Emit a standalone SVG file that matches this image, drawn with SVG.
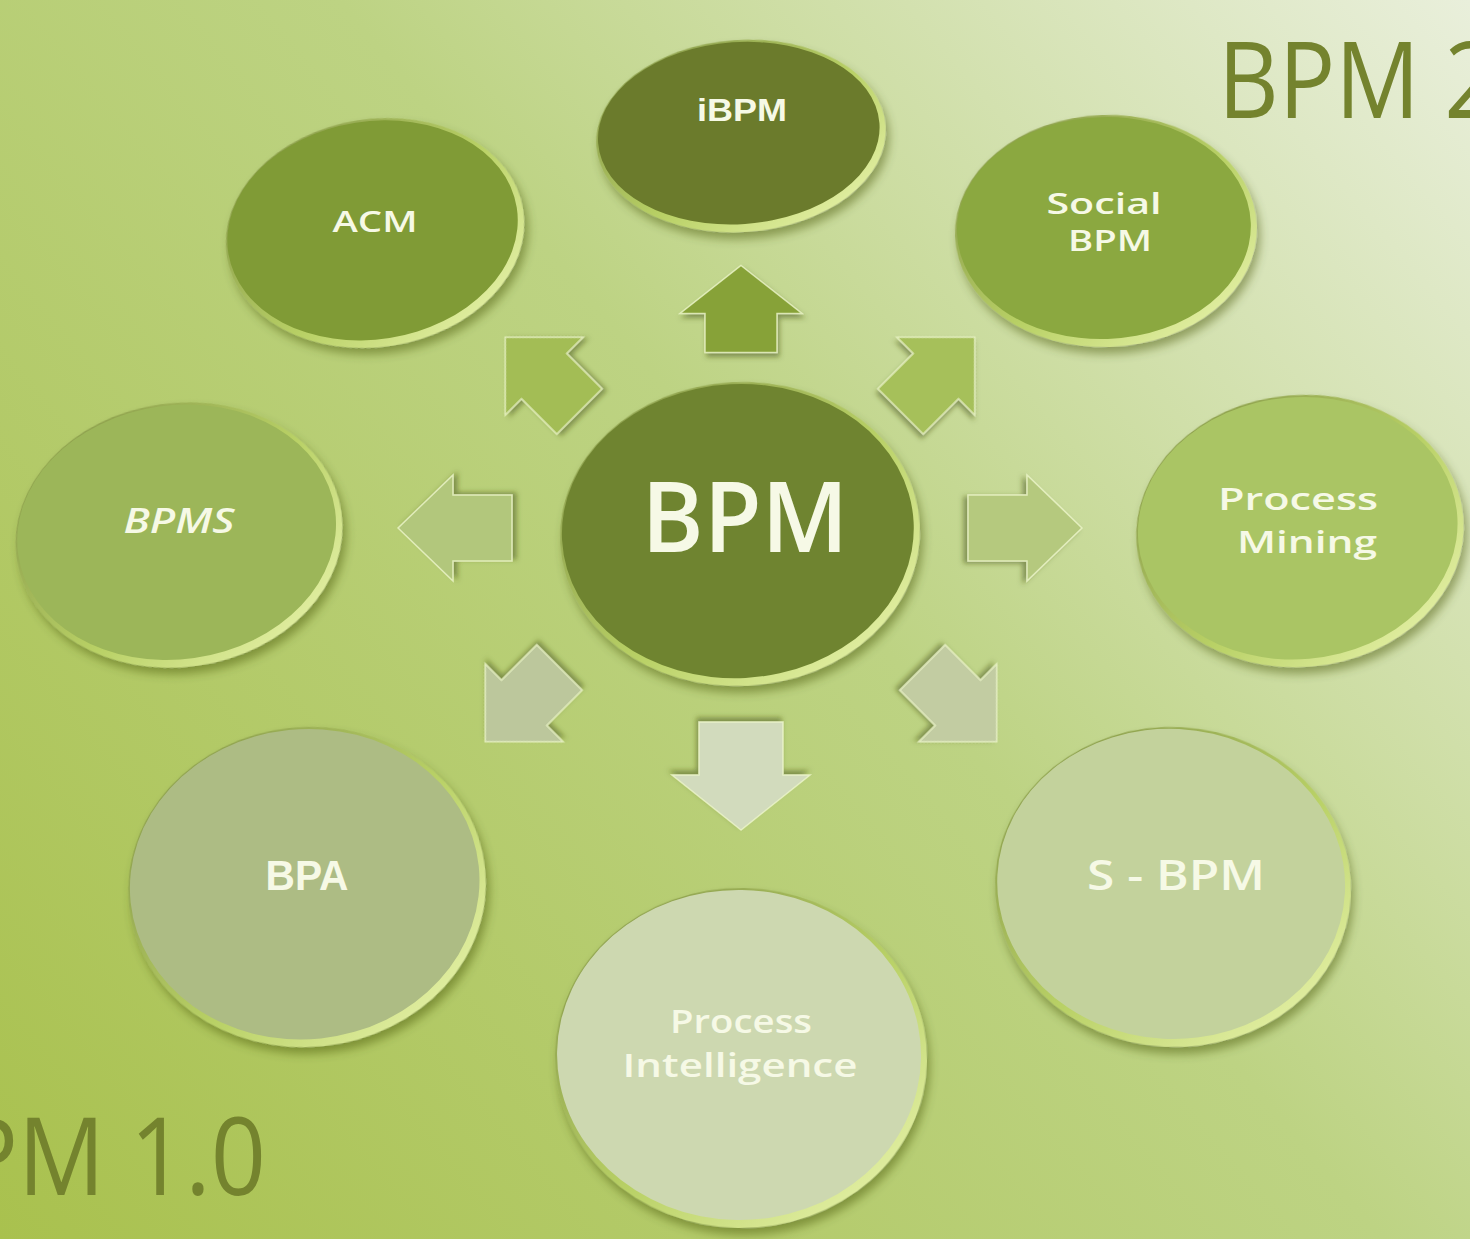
<svg xmlns="http://www.w3.org/2000/svg" width="1470" height="1239" viewBox="0 0 1470 1239">
<defs>
<linearGradient id="bg" gradientUnits="userSpaceOnUse" x1="0" y1="1239" x2="1470" y2="0">
<stop offset="0" stop-color="#a9c14e"/>
<stop offset="0.55" stop-color="#bdd383"/>
<stop offset="1" stop-color="#e9efdb"/>
</linearGradient>
<linearGradient id="rim" x1="0" y1="0" x2="1" y2="1">
<stop offset="0" stop-color="#7e8f45"/>
<stop offset="0.55" stop-color="#b9d166"/>
<stop offset="1" stop-color="#f0f9b8"/>
</linearGradient>
<filter id="sh" x="-20%" y="-20%" width="140%" height="150%">
<feDropShadow dx="3" dy="7" stdDeviation="5" flood-color="#3f4f10" flood-opacity="0.45"/>
</filter>
<filter id="ash" x="-30%" y="-30%" width="160%" height="160%">
<feDropShadow dx="2" dy="4" stdDeviation="2.5" flood-color="#3f4f10" flood-opacity="0.5"/>
</filter>
<style>
.rim{fill:url(#rim);filter:url(#sh)}
.t{fill:#f6f9e6;font-family:"Open Sans","DejaVu Sans",sans-serif;text-anchor:middle;font-weight:600}
.ar{stroke:#eef6cc;stroke-opacity:0.8;stroke-width:1.5;stroke-linejoin:miter;filter:url(#ash)}
.title{fill:#74832e;font-family:"Open Sans","DejaVu Sans",sans-serif}
</style>
</defs>
<rect width="1470" height="1239" fill="url(#bg)"/>

<text class="title" x="1218" y="118" font-size="106" textLength="280" lengthAdjust="spacingAndGlyphs">BPM 2</text>
<text class="title" x="266" y="1195" font-size="108" text-anchor="end" textLength="306" lengthAdjust="spacingAndGlyphs">PM 1.0</text>

<g id="connectors">
<path class="ar" fill="#87a238" transform="translate(741,308.5)" d="M0,-43 L61,5 L36,5 L36,44 L-36,44 L-36,5 L-61,5 Z"/>
<path class="ar" fill="#a3bd55" transform="translate(542,374) rotate(-45)" d="M0,-52 L55,3 L32,3 L32,53 L-32,53 L-32,3 L-55,3 Z"/>
<path class="ar" fill="#a6c05a" transform="translate(938,374) rotate(45)" d="M0,-52 L55,3 L32,3 L32,53 L-32,53 L-32,3 L-55,3 Z"/>
<path class="ar" fill="#b2c77c" transform="translate(455,528) rotate(-90)" d="M0,-57 L53,-2 L33,-2 L33,57 L-33,57 L-33,-2 L-53,-2 Z"/>
<path class="ar" fill="#b5c97e" transform="translate(1025,528) rotate(90)" d="M0,-57 L53,-2 L33,-2 L33,57 L-33,57 L-33,-2 L-53,-2 Z"/>
<path class="ar" fill="#bcc79c" transform="translate(522,705) rotate(-135)" d="M0,-52 L55,3 L32,3 L32,53 L-32,53 L-32,3 L-55,3 Z"/>
<path class="ar" fill="#c2cca2" transform="translate(960,705) rotate(135)" d="M0,-52 L55,3 L32,3 L32,53 L-32,53 L-32,3 L-55,3 Z"/>
<path class="ar" fill="#d2dbbd" transform="translate(741,776) rotate(180)" d="M0,-54 L69,1 L42,1 L42,54 L-42,54 L-42,1 L-69,1 Z"/>
</g>

<g id="node-ibpm">
<g transform="translate(741,136) rotate(-4)">
<ellipse class="rim" rx="145" ry="96"/>
<ellipse cx="-2" cy="-3" rx="141" ry="91" fill="#6b7b2c"/>
</g>
<text class="t" x="742" y="121" font-size="31" textLength="90" lengthAdjust="spacingAndGlyphs" style="font-family:'Liberation Sans',Arial,sans-serif;font-weight:bold">iBPM</text>
</g>

<g id="node-acm">
<g transform="translate(375,233) rotate(-9)">
<ellipse class="rim" rx="150" ry="114"/>
<ellipse cx="-2" cy="-3" rx="146" ry="109" fill="#809b36"/>
</g>
<text class="t" x="375" y="232" font-size="28" textLength="85" lengthAdjust="spacingAndGlyphs">ACM</text>
</g>

<g id="node-social-bpm">
<g transform="translate(1106,231) rotate(-2)">
<ellipse class="rim" rx="151" ry="116"/>
<ellipse cx="-2" cy="-3" rx="147" ry="111" fill="#8ba840"/>
</g>
<text class="t" x="1104" y="214" font-size="28" textLength="115" lengthAdjust="spacingAndGlyphs">Social</text>
<text class="t" x="1110" y="251" font-size="28" textLength="84" lengthAdjust="spacingAndGlyphs">BPM</text>
</g>

<g id="node-bpms">
<g transform="translate(179,535) rotate(-8)">
<ellipse class="rim" rx="164" ry="132"/>
<ellipse cx="-2" cy="-3" rx="160" ry="127" fill="#9cb659"/>
</g>
<text class="t" x="179" y="533" font-size="35" font-style="italic" textLength="111" lengthAdjust="spacingAndGlyphs">BPMS</text>
</g>

<g id="node-process-mining">
<g transform="translate(1300,531) rotate(-5)">
<ellipse class="rim" rx="164" ry="136"/>
<ellipse cx="-2" cy="-3" rx="160" ry="131" fill="#aac564"/>
</g>
<text class="t" x="1298" y="510" font-size="31" textLength="160" lengthAdjust="spacingAndGlyphs">Process</text>
<text class="t" x="1307" y="553" font-size="31" textLength="140" lengthAdjust="spacingAndGlyphs">Mining</text>
</g>

<g id="node-bpm">
<g transform="translate(740,534) rotate(-3)">
<ellipse class="rim" rx="180" ry="152"/>
<ellipse cx="-2" cy="-3" rx="176" ry="147" fill="#6f8430"/>
</g>
<text class="t" x="745" y="552" font-size="97" textLength="207" lengthAdjust="spacingAndGlyphs">BPM</text>
</g>

<g id="node-bpa">
<g transform="translate(307,887) rotate(-6)">
<ellipse class="rim" rx="179" ry="160"/>
<ellipse cx="-2" cy="-3" rx="175" ry="155" fill="#adbc84"/>
</g>
<text class="t" x="307" y="890" font-size="42" textLength="83" lengthAdjust="spacingAndGlyphs" style="font-family:'Liberation Sans',Arial,sans-serif">BPA</text>
</g>

<g id="node-s-bpm">
<g transform="translate(1173,887) rotate(3)">
<ellipse class="rim" rx="178" ry="160"/>
<ellipse cx="-2" cy="-3" rx="174" ry="155" fill="#c3d29c"/>
</g>
<text class="t" x="1176" y="890" font-size="42" textLength="178" lengthAdjust="spacingAndGlyphs">S - BPM</text>
</g>

<g id="node-process-intelligence">
<g transform="translate(741,1058) rotate(1)">
<ellipse class="rim" rx="186" ry="170"/>
<ellipse cx="-2" cy="-3" rx="182" ry="165" fill="#cdd8b0"/>
</g>
<text class="t" x="741" y="1033" font-size="33" textLength="142" lengthAdjust="spacingAndGlyphs">Process</text>
<text class="t" x="740" y="1077" font-size="33" textLength="235" lengthAdjust="spacingAndGlyphs">Intelligence</text>
</g>
</svg>
